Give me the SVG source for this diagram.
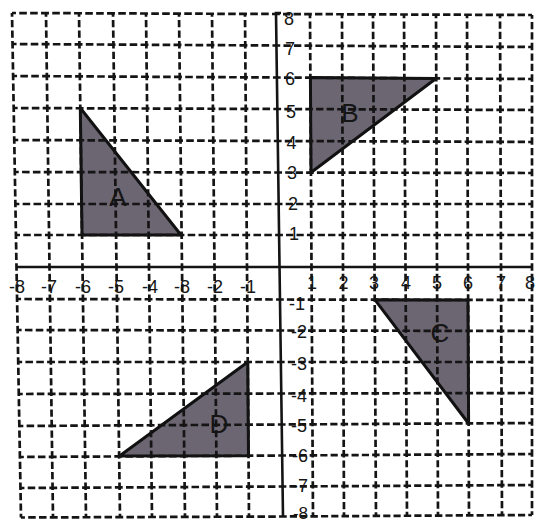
<svg xmlns="http://www.w3.org/2000/svg" width="535" height="524" viewBox="0 0 535 524">
<style>
.g{fill:none;stroke:#141414;stroke-width:2.7;stroke-dasharray:2.4 1 2.3 1 2.3 1;stroke-dashoffset:1.2}
.ax{fill:none;stroke:#141414;stroke-width:2.6}
.tri{fill:#6c6572;stroke:#111;stroke-width:3;stroke-linejoin:round}
.lbl{font-family:"Liberation Sans",Arial,sans-serif;font-size:18px;fill:#161616}
.tl{font-family:"Liberation Sans",Arial,sans-serif;font-size:26px;fill:#151515;text-anchor:middle}
.m{text-anchor:middle}.e{text-anchor:end}
</style>
<rect width="535" height="524" fill="#fff"/>
<g id="triangle-A"><path class="tri" d="M80.3 108 L82 235 L181 235 Z"/><text class="tl" x="118" y="206">A</text></g>
<g id="triangle-B"><path class="tri" d="M310.4 77.5 L311 172.5 L436 78.5 Z"/><text class="tl" x="350" y="122">B</text></g>
<g id="triangle-C"><path class="tri" d="M375 299.8 L468 300 L468.6 423.5 Z"/><text class="tl" x="440" y="342">C</text></g>
<g id="triangle-D"><path class="tri" d="M119.5 456 L248.5 455.7 L247.8 362 Z"/><text class="tl" x="219" y="433">D</text></g>
<g id="grid">
<path class="g" pathLength="80" d="M12 13 L16.5 267"/>
<path class="g" pathLength="80" d="M46 13 L49.5 267"/>
<path class="g" pathLength="80" d="M79 13 L82.5 267"/>
<path class="g" pathLength="80" d="M113 13 L116.5 267"/>
<path class="g" pathLength="80" d="M146 13 L149 267"/>
<path class="g" pathLength="80" d="M179 13 L182 267"/>
<path class="g" pathLength="80" d="M212 13 L214.5 267"/>
<path class="g" pathLength="80" d="M245 13 L247 267"/>
<path class="g" pathLength="80" d="M310 14.5 L311.5 267"/>
<path class="g" pathLength="80" d="M342 14.5 L343 267"/>
<path class="g" pathLength="80" d="M373 14.5 L374.5 267"/>
<path class="g" pathLength="80" d="M404 14.5 L405.5 267"/>
<path class="g" pathLength="80" d="M436 14.5 L437 267"/>
<path class="g" pathLength="80" d="M467 14.5 L468 267"/>
<path class="g" pathLength="80" d="M500 14.5 L501 267"/>
<path class="g" pathLength="80" d="M532 15 L532 267"/>
<path class="g" pathLength="80" d="M16.5 267 L21 517.5"/>
<path class="g" pathLength="80" d="M49.5 267 L53 517.5"/>
<path class="g" pathLength="80" d="M82.5 267 L86 517.5"/>
<path class="g" pathLength="80" d="M116.5 267 L120 517.5"/>
<path class="g" pathLength="80" d="M149 267 L152 517"/>
<path class="g" pathLength="80" d="M182 267 L185 517"/>
<path class="g" pathLength="80" d="M214.5 267 L217 517"/>
<path class="g" pathLength="80" d="M247 267 L249 517"/>
<path class="g" pathLength="80" d="M311.5 267 L313 516"/>
<path class="g" pathLength="80" d="M343 267 L344 516"/>
<path class="g" pathLength="80" d="M374.5 267 L376 516"/>
<path class="g" pathLength="80" d="M405.5 267 L407 515.5"/>
<path class="g" pathLength="80" d="M437 267 L438 515.5"/>
<path class="g" pathLength="80" d="M468 267 L469 515.5"/>
<path class="g" pathLength="80" d="M501 267 L502 515"/>
<path class="g" pathLength="80" d="M532 267 L532 515"/>
<path class="g" pathLength="80" d="M12 13 L276 14"/>
<path class="g" pathLength="80" d="M12.6 44 L276.4 45.5"/>
<path class="g" pathLength="80" d="M13.1 76 L276.9 77.5"/>
<path class="g" pathLength="80" d="M13.7 108 L277.3 109"/>
<path class="g" pathLength="80" d="M14.3 140 L277.8 141"/>
<path class="g" pathLength="80" d="M14.8 172 L278.2 172.5"/>
<path class="g" pathLength="80" d="M15.4 204 L278.7 204"/>
<path class="g" pathLength="80" d="M16 235 L279.1 235"/>
<path class="g" pathLength="80" d="M17.1 299 L280 299.5"/>
<path class="g" pathLength="80" d="M17.7 330 L280.4 330.5"/>
<path class="g" pathLength="80" d="M18.2 362 L280.9 362"/>
<path class="g" pathLength="80" d="M18.8 394 L281.3 393.5"/>
<path class="g" pathLength="80" d="M19.4 426 L281.8 424.5"/>
<path class="g" pathLength="80" d="M19.9 457 L282.2 455.5"/>
<path class="g" pathLength="80" d="M20.5 488 L282.6 486.5"/>
<path class="g" pathLength="80" d="M21 517.5 L283 516.5"/>
<path class="g" pathLength="80" d="M276 14 L532 15"/>
<path class="g" pathLength="80" d="M276.4 45.5 L532 47"/>
<path class="g" pathLength="80" d="M276.9 77.5 L532 79"/>
<path class="g" pathLength="80" d="M277.3 109 L532 110"/>
<path class="g" pathLength="80" d="M277.8 141 L532 142"/>
<path class="g" pathLength="80" d="M278.2 172.5 L532 173"/>
<path class="g" pathLength="80" d="M278.7 204 L532 204"/>
<path class="g" pathLength="80" d="M279.1 235 L532 235"/>
<path class="g" pathLength="80" d="M280 299.5 L532 300"/>
<path class="g" pathLength="80" d="M280.4 330.5 L532 331"/>
<path class="g" pathLength="80" d="M280.9 362 L532 362"/>
<path class="g" pathLength="80" d="M281.3 393.5 L532 393"/>
<path class="g" pathLength="80" d="M281.8 424.5 L532 423"/>
<path class="g" pathLength="80" d="M282.2 455.5 L532 454"/>
<path class="g" pathLength="80" d="M282.6 486.5 L532 485"/>
<path class="g" pathLength="80" d="M283 516.5 L532 515"/>
</g>
<g id="axes">
<path class="ax" d="M16.5 267 L532 267"/>
<path class="ax" d="M281 13 L276 13 L283 516.5"/>
</g>
<g id="labels" class="lbl">
<text class="e" x="25" y="293">-8</text>
<text class="e" x="57" y="293">-7</text>
<text class="e" x="91" y="293">-6</text>
<text class="e" x="124" y="293">-5</text>
<text class="e" x="158" y="293">-4</text>
<text class="e" x="190" y="293">-8</text>
<text class="e" x="223" y="293">-2</text>
<text class="e" x="256" y="293">-1</text>
<text class="m" x="312" y="289">1</text>
<text class="m" x="343.5" y="289">2</text>
<text class="m" x="374" y="289">3</text>
<text class="m" x="406" y="289">4</text>
<text class="m" x="437" y="289">5</text>
<text class="m" x="468" y="289">6</text>
<text class="m" x="501" y="289">7</text>
<text class="m" x="530" y="289">8</text>
<text class="m" x="289" y="25">8</text>
<text class="m" x="290" y="55">7</text>
<text class="m" x="290" y="85">6</text>
<text class="m" x="291" y="118">5</text>
<text class="m" x="291.5" y="149">4</text>
<text class="m" x="292" y="179">3</text>
<text class="m" x="293" y="210">2</text>
<text class="m" x="294" y="240">1</text>
<text class="e" x="305" y="310">-1</text>
<text class="e" x="307" y="338">-2</text>
<text class="e" x="307" y="370">-3</text>
<text class="e" x="307" y="402">-4</text>
<text class="e" x="307" y="432">-5</text>
<text class="e" x="308" y="462">-6</text>
<text class="e" x="308" y="492">-7</text>
<text class="e" x="308" y="519" style="font-size:17px">-8</text>
</g>
</svg>
